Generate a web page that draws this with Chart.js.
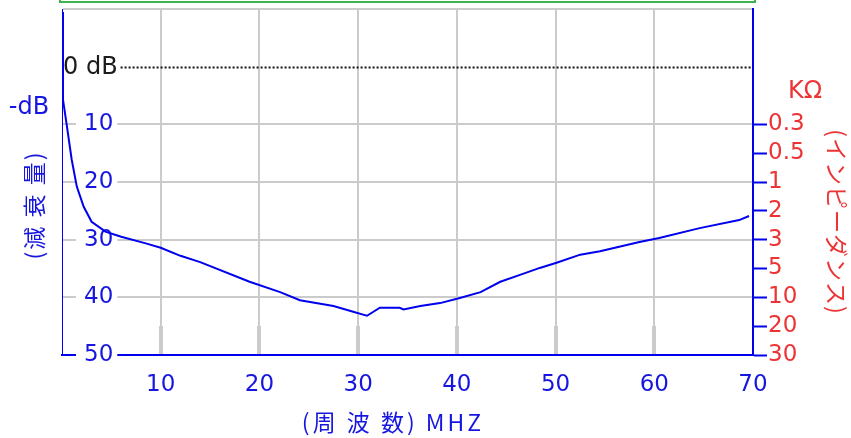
<!DOCTYPE html>
<html>
<head>
<meta charset="utf-8">
<script src="https://cdn.jsdelivr.net/npm/chart.js@4/dist/chart.umd.min.js"></script>
<style>
  html, body { margin: 0; padding: 0; background: #ffffff; }
  #wrap { position: relative; width: 851px; height: 438px; }
</style>
</head>
<body>
<div id="wrap"><canvas id="chart" width="851" height="438"></canvas></div>
<script>
// Attenuation curve: frequency (MHz) and attenuation (dB, negative = loss)
const FREQ_MHZ = [0, 0.1, 0.47, 0.98, 1.5, 2.2, 3.0, 4.4, 6.0, 8.4, 10, 12, 14, 19, 22.1, 24.1, 27.5, 29.5, 30.5, 30.9, 32.2, 34.2, 34.6, 36.3, 38.3, 40.3, 42.4, 44.4, 46.4, 48.4, 50.1, 52.5, 54.5, 58.5, 60.5, 64.6, 68.6, 69.6];
const ATTEN_DB = [9.5, -5.7, -10, -16.1, -20.8, -24.3, -26.9, -28.6, -29.5, -30.6, -31.4, -32.8, -33.9, -37.3, -39.1, -40.5, -41.5, -42.5, -43.0, -43.2, -41.8, -41.8, -42.1, -41.5, -41.0, -40.1, -39.1, -37.3, -36.1, -34.9, -34.0, -32.6, -32.0, -30.4, -29.7, -28.0, -26.6, -25.9];

// Left axis (attenuation) ticks, right axis (impedance) ticks and labels
const DB_TICKS = [10, 0, -10, -20, -30, -40, -50];
const X_TICKS = [0, 10, 20, 30, 40, 50, 60, 70];
const OHM_TICKS = [-10, -15, -20, -25, -30, -35, -40, -45, -50];
const OHM_LABELS = ['0.3', '0.5', '1', '2', '3', '5', '10', '20', '30'];

const BLUE = '#0000ee';
const TEXT_BLUE = '#1616e0';
const RED = '#ec3434';
const GRID = '#cbcbcb';
const NUM_FONT = { family: 'DejaVu Sans', size: 23 };
const CJK = '"Noto Sans CJK JP", "DejaVu Sans", sans-serif';

const decorations = {
  id: 'decorations',
  beforeDatasetsDraw(chart) {
    const { ctx, chartArea, scales } = chart;
    // heavier stubs at the foot of each frequency gridline
    ctx.save();
    ctx.strokeStyle = GRID;
    ctx.lineWidth = 4;
    X_TICKS.slice(1, -1).forEach(v => {
      const x = Math.round(scales.x.getPixelForValue(v));
      ctx.beginPath();
      ctx.moveTo(x, chartArea.bottom - 29);
      ctx.lineTo(x, chartArea.bottom - 1);
      ctx.stroke();
    });
    // 0 dB reference line
    const y0 = Math.round(scales.y.getPixelForValue(0)) + 0.5;
    ctx.font = '24px "DejaVu Sans"';
    ctx.fillStyle = '#1c1c1c';
    ctx.textBaseline = 'middle';
    ctx.textAlign = 'left';
    ctx.fillText('0 dB', chartArea.left + 1, y0);
    const startX = chartArea.left + 2 + ctx.measureText('0 dB').width + 2;
    ctx.strokeStyle = '#111111';
    ctx.lineWidth = 2;
    ctx.setLineDash([2, 2]);
    ctx.beginPath();
    ctx.moveTo(startX, y0);
    ctx.lineTo(chartArea.right - 1, y0);
    ctx.stroke();
    ctx.restore();
  },
  afterDraw(chart) {
    const { ctx, chartArea } = chart;
    ctx.save();
    // green frame along the top
    ctx.strokeStyle = '#3fb24f';
    ctx.lineWidth = 2;
    ctx.strokeRect(chartArea.left - 2, -10, chartArea.right - chartArea.left + 4, 12);

    ctx.textBaseline = 'middle';
    ctx.textAlign = 'center';
    // unit labels
    ctx.font = '24px "DejaVu Sans"';
    ctx.fillStyle = TEXT_BLUE;
    ctx.fillText('-dB', 29, 108);
    ctx.fillStyle = RED;
    ctx.fillText('KΩ', 805, 92);

    // axis titles
    ctx.font = '23px ' + CJK;
    ctx.fillStyle = TEXT_BLUE;
    ctx.letterSpacing = '3px';
    ctx.fillText('(周 波 数) MHZ', 393, 422);

    ctx.letterSpacing = '2px';
    ctx.save();
    ctx.translate(34, 205);
    ctx.rotate(-Math.PI / 2);
    ctx.fillText('(減 衰 量)', 0, 0);
    ctx.restore();

    ctx.letterSpacing = '1px';
    ctx.save();
    ctx.translate(837, 222);
    ctx.rotate(Math.PI / 2);
    ctx.fillStyle = RED;
    ctx.fillText('(インピーダンス)', 0, 0);
    ctx.restore();
    ctx.restore();
  }
};

new Chart(document.getElementById('chart'), {
  type: 'line',
  data: {
    datasets: [{
      data: FREQ_MHZ.map((f, i) => ({ x: f, y: ATTEN_DB[i] })),
      borderColor: BLUE,
      borderWidth: 2,
      pointRadius: 0,
      tension: 0,
      fill: false
    }]
  },
  options: {
    responsive: false,
    animation: false,
    events: [],
    layout: { padding: { top: 9, left: 0, right: 0, bottom: 0 } },
    plugins: { legend: { display: false }, tooltip: { enabled: false } },
    scales: {
      x: {
        type: 'linear',
        min: 0, max: 70,
        afterBuildTicks: s => { s.ticks = X_TICKS.map(v => ({ value: v })); },
        afterFit: s => { s.height = 83; s.paddingLeft = 0; s.paddingRight = 0; },
        grid: {
          color: c => (c.tick && (c.tick.value === 0 || c.tick.value === 70)) ? 'rgba(0,0,0,0)' : GRID,
          lineWidth: 2,
          drawTicks: false
        },
        border: { color: BLUE, width: 2 },
        ticks: {
          color: TEXT_BLUE,
          font: NUM_FONT,
          padding: 16,
          maxRotation: 0,
          callback: v => (v === 0 ? '' : String(v))
        }
      },
      y: {
        type: 'linear',
        position: 'left',
        min: -50, max: 10,
        afterBuildTicks: s => { s.ticks = DB_TICKS.map(v => ({ value: v })); },
        afterFit: s => { s.width = 62; s.paddingTop = 0; s.paddingBottom = 0; },
        grid: {
          color: c => (c.tick && c.tick.value === 0) ? 'rgba(0,0,0,0)' : GRID,
          lineWidth: 2,
          drawTicks: false
        },
        border: { color: BLUE, width: 1 },
        ticks: {
          mirror: true,
          color: TEXT_BLUE,
          font: NUM_FONT,
          padding: 22,
          showLabelBackdrop: c => c.tick && c.tick.value < 0,
          backdropColor: '#ffffff',
          backdropPadding: { left: 8, right: 4, top: 0, bottom: 0 },
          callback: v => (v < 0 ? String(-v) : '')
        }
      },
      y2: {
        type: 'linear',
        position: 'right',
        min: -50, max: 10,
        afterBuildTicks: s => { s.ticks = OHM_TICKS.map(v => ({ value: v })); },
        afterFit: s => { s.width = 98; s.paddingTop = 0; s.paddingBottom = 0; },
        grid: {
          drawOnChartArea: false,
          drawTicks: true,
          tickLength: 14,
          tickColor: BLUE,
          tickWidth: 2
        },
        border: { color: BLUE, width: 2 },
        ticks: {
          color: RED,
          font: NUM_FONT,
          padding: 1,
          callback: v => OHM_LABELS[OHM_TICKS.indexOf(v)]
        }
      }
    }
  },
  plugins: [decorations]
});
</script>
</body>
</html>
